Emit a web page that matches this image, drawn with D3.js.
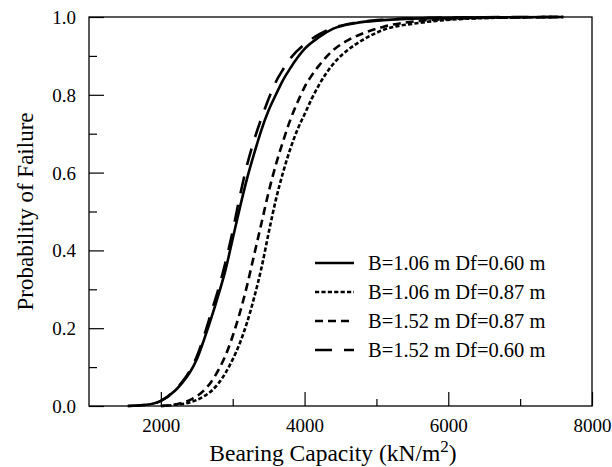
<!DOCTYPE html>
<html>
<head>
<meta charset="utf-8">
<script src="https://cdn.jsdelivr.net/npm/d3@7"></script>
<style>
  body { margin: 0; background: #fff; }
  svg text { font-family: "Liberation Serif", "Times New Roman", serif; fill: #000; }
</style>
</head>
<body>
<svg id="chart" width="612" height="467"></svg>
<script>
// legend labels (in legend order)
const seriesNames = [
  "B=1.06 m Df=0.60 m",
  "B=1.06 m Df=0.87 m",
  "B=1.52 m Df=0.87 m",
  "B=1.52 m Df=0.60 m"
];

// bearing capacity (kN/m2) and probability of failure
const capA = [1540, 1800, 2000, 2200, 2300, 2400, 2500, 2600, 2700, 2800, 2900, 3000, 3100, 3200, 3300, 3400, 3500, 3600, 3700, 3800, 3900, 4000, 4200, 4400, 4700, 5100, 5800, 6500, 7600];
const probA = [0, 0.003, 0.013, 0.04, 0.06, 0.085, 0.12, 0.17, 0.225, 0.285, 0.35, 0.43, 0.51, 0.585, 0.65, 0.71, 0.76, 0.80, 0.838, 0.868, 0.895, 0.918, 0.948, 0.97, 0.984, 0.992, 0.997, 0.999, 1.0];

const capB = [2000, 2200, 2400, 2600, 2700, 2800, 2900, 3000, 3100, 3200, 3300, 3400, 3500, 3600, 3700, 3800, 3900, 4000, 4100, 4200, 4300, 4450, 4600, 4800, 5100, 5600, 6200, 7000, 7600];
const probB = [0, 0.003, 0.009, 0.025, 0.038, 0.058, 0.085, 0.12, 0.162, 0.215, 0.28, 0.355, 0.445, 0.53, 0.60, 0.66, 0.71, 0.75, 0.79, 0.825, 0.855, 0.89, 0.915, 0.94, 0.967, 0.985, 0.995, 0.999, 1.0];

const capC = [2000, 2200, 2400, 2500, 2600, 2700, 2800, 2900, 3000, 3100, 3200, 3300, 3400, 3500, 3600, 3700, 3800, 3900, 4000, 4100, 4200, 4400, 4600, 4800, 5100, 5600, 6200, 7000, 7600];
const probC = [0, 0.004, 0.015, 0.025, 0.04, 0.062, 0.092, 0.13, 0.18, 0.24, 0.31, 0.39, 0.47, 0.55, 0.62, 0.68, 0.735, 0.78, 0.82, 0.85, 0.875, 0.915, 0.94, 0.957, 0.975, 0.99, 0.996, 0.999, 1.0];

const capD = [1540, 1800, 2000, 2200, 2300, 2400, 2500, 2600, 2700, 2800, 2900, 3000, 3100, 3200, 3300, 3400, 3500, 3600, 3700, 3800, 4000, 4200, 4400, 4700, 5100, 5800, 6500, 7600];
const probD = [0, 0.003, 0.013, 0.042, 0.063, 0.09, 0.127, 0.18, 0.24, 0.30, 0.37, 0.45, 0.54, 0.62, 0.685, 0.74, 0.79, 0.833, 0.865, 0.893, 0.93, 0.955, 0.972, 0.985, 0.993, 0.998, 0.9995, 1.0];

// axis ticks
const xMajorTicks = [2000, 4000, 6000, 8000];
const xMinorTicks = [3000, 5000, 7000];
const yMajorTicks = [0, 0.2, 0.4, 0.6, 0.8, 1.0];
const yMinorTicks = [0.1, 0.3, 0.5, 0.7, 0.9];

const series = [
  { name: seriesNames[0], cap: capA, prob: probA, dash: null },
  { name: seriesNames[1], cap: capB, prob: probB, dash: "4.2,2.2" },
  { name: seriesNames[2], cap: capC, prob: probC, dash: "8,5" },
  { name: seriesNames[3], cap: capD, prob: probD, dash: "17,12" }
];

const svg = d3.select("#chart");
const plotL = 89, plotR = 592, plotT = 17, plotB = 406;

const x = d3.scaleLinear().domain([1000, 8000]).range([plotL, plotR]);
const y = d3.scaleLinear().domain([0, 1]).range([plotB, plotT]);

// curves
const line = d3.line()
  .x(d => x(d[0]))
  .y(d => y(d[1]))
  .curve(d3.curveMonotoneX);

series.forEach(s => {
  const pts = s.cap.map((c, i) => [c, s.prob[i]]);
  svg.append("path")
    .attr("d", line(pts))
    .attr("fill", "none")
    .attr("stroke", "#000")
    .attr("stroke-width", 2.6)
    .attr("stroke-dasharray", s.dash);
});

// axes: ticks point inward
const xAxis = svg.append("g").attr("transform", `translate(0,${plotB})`)
  .call(d3.axisBottom(x).tickValues(xMajorTicks).tickSizeInner(-14).tickSizeOuter(0).tickPadding(26).tickFormat(d3.format("d")));
svg.append("g").attr("transform", `translate(0,${plotB})`)
  .call(d3.axisBottom(x).tickValues(xMinorTicks).tickSizeInner(-7).tickSizeOuter(0).tickFormat(""));

const yAxis = svg.append("g").attr("transform", `translate(${plotL},0)`)
  .call(d3.axisLeft(y).tickValues(yMajorTicks).tickSizeInner(-15).tickSizeOuter(0).tickPadding(28).tickFormat(d3.format(".1f")));
svg.append("g").attr("transform", `translate(${plotL},0)`)
  .call(d3.axisLeft(y).tickValues(yMinorTicks).tickSizeInner(-8).tickSizeOuter(0).tickFormat(""));

svg.selectAll(".domain").remove();
svg.selectAll(".tick line").attr("stroke", "#000").attr("stroke-width", 1.2);
xAxis.selectAll("text").attr("font-size", 19).attr("font-family", "Liberation Serif").attr("dy", 0);
yAxis.selectAll("text").attr("font-size", 19).attr("font-family", "Liberation Serif").attr("dy", "0.34em")
  .attr("text-anchor", "end").attr("x", -13);

// frame
svg.append("rect")
  .attr("x", plotL).attr("y", plotT)
  .attr("width", plotR - plotL).attr("height", plotB - plotT)
  .attr("fill", "none").attr("stroke", "#000").attr("stroke-width", 1.3);

// axis titles
const xTitle = svg.append("text")
  .attr("x", 333).attr("y", 461)
  .attr("text-anchor", "middle").attr("font-size", 23.5);
xTitle.append("tspan").text("Bearing Capacity (kN/m");
xTitle.append("tspan").attr("font-size", 17).attr("dy", -9).text("2");
xTitle.append("tspan").attr("dy", 9).text(")");

svg.append("text")
  .attr("transform", `translate(33,${(plotT + plotB) / 2}) rotate(-90)`)
  .attr("text-anchor", "middle").attr("font-size", 23)
  .text("Probability of Failure");

// legend
const legend = svg.append("g");
series.forEach((s, i) => {
  const ly = 263 + i * 29;
  legend.append("line")
    .attr("x1", 315).attr("x2", 354).attr("y1", ly).attr("y2", ly)
    .attr("stroke", "#000").attr("stroke-width", 2.6)
    .attr("stroke-dasharray", s.dash);
  legend.append("text")
    .attr("x", 368).attr("y", ly).attr("dy", "0.35em")
    .attr("font-size", 20.5)
    .text(s.name);
});
</script>
</body>
</html>
